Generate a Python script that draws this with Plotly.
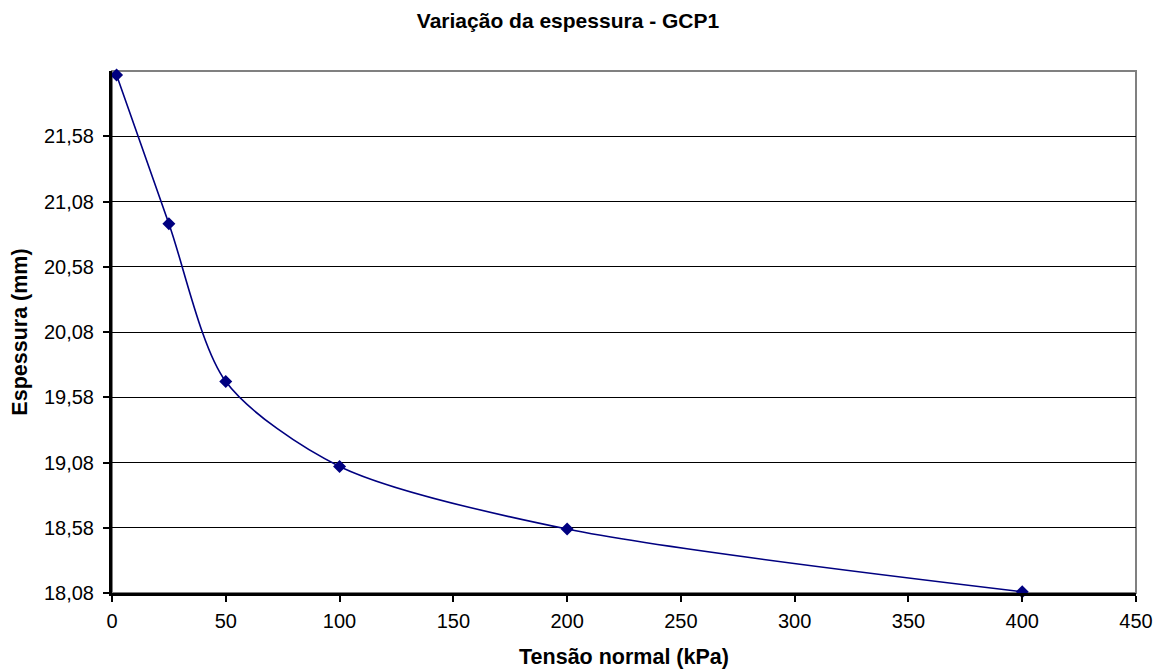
import plotly.graph_objects as go

tensao = [2, 25, 50, 100, 200, 400]
espessura = [22.05, 20.91, 19.70, 19.05, 18.57, 18.09]
y_ticks = [18.08, 18.58, 19.08, 19.58, 20.08, 20.58, 21.08, 21.58]

fig = go.Figure()
fig.add_trace(go.Scatter(
    x=tensao, y=espessura,
    mode="lines+markers",
    line=dict(color="#000080", width=1.6, shape="spline", smoothing=0.8),
    marker=dict(symbol="diamond", size=10, color="#000080"),
    cliponaxis=False,
    showlegend=False,
))

# grey frame on top/right of plot area
fig.add_shape(type="rect", xref="paper", yref="paper", x0=0, y0=0, x1=1, y1=1,
              line=dict(color="#808080", width=2), layer="below")

# page body has an 8px margin, so the figure is a bit smaller than the window
fig.update_layout(
    width=1155, height=663,
    margin=dict(l=104, r=27, t=63, b=78),
    paper_bgcolor="white", plot_bgcolor="white",
    separators=",.",
    font=dict(family="Liberation Sans, Arial, sans-serif", size=20, color="black"),
    title=dict(text="<b>Variação da espessura - GCP1</b>", x=560 / 1155, xanchor="center",
               xref="container", yref="container", y=1 - 13 / 663, yanchor="middle",
               font=dict(size=21)),
)
fig.update_xaxes(
    range=[0, 450], dtick=50, tickmode="linear", tick0=0,
    showgrid=False, zeroline=False, automargin=False,
    showline=True, linecolor="black", linewidth=3,
    ticks="outside", ticklen=6, tickwidth=2, tickcolor="black",
    ticklabelstandoff=2,
    title=dict(text="<b>Tensão normal (kPa)</b>", font=dict(size=21.5), standoff=18),
)
fig.update_yaxes(
    range=[18.08, 22.08], tickvals=y_ticks, tickformat=".2f",
    showgrid=True, gridcolor="black", gridwidth=1, zeroline=False, automargin=False,
    showline=True, linecolor="black", linewidth=3,
    ticks="outside", ticklen=6, tickwidth=2, tickcolor="black",
    ticklabelstandoff=5,
    title=dict(text="<b>Espessura (mm)</b>", font=dict(size=21.5), standoff=12),
)

fig.write_html("out.html")
